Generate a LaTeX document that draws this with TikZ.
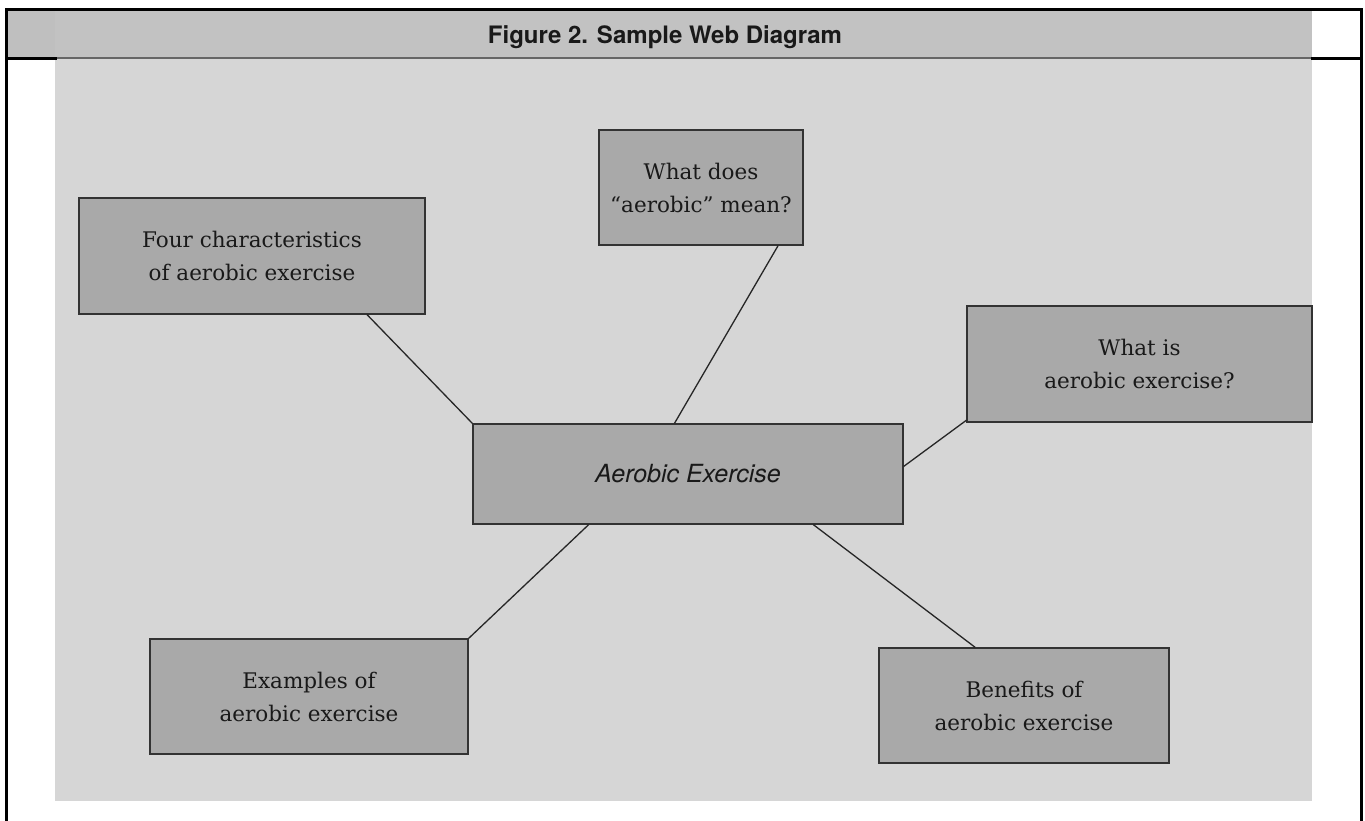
\documentclass[tikz,border=0pt]{standalone}
\usepackage{fontspec}
\newfontfamily\headfont{TeX Gyre Heros}
\newfontfamily\boxfont[Ligatures=TeX]{DejaVu Serif}
\definecolor{pagegray}{HTML}{D6D6D6}
\definecolor{bandgray}{HTML}{C2C2C2}
\definecolor{boxgray}{HTML}{A9A9A9}

\begin{document}
\begin{tikzpicture}[x=1pt,y=-1pt]
\tikzstyle{topic} = [draw=black!80,line width=1.2pt,fill=boxgray,text=black!90,inner sep=0pt,align=center,font=\boxfont\fontsize{21.5}{33}\selectfont]
\tikzstyle{hubbox} = [topic,font=\headfont\itshape\fontsize{25}{30}\selectfont]
\tikzstyle{spoke} = [draw=black!85,line width=1.3pt]
\tikzstyle{frame} = [line width=3pt,line cap=rect]

\useasboundingbox (0,0) rectangle (1365,820);

% page and title band
\fill[pagegray] (55,58) rectangle (1312,801);
\fill[bandgray] (55,10) rectangle (1312,58);
\fill[black!25] (6,10) rectangle (55,58);
\draw[black!60,line width=2pt] (55,58) -- (1312,58);
\draw[frame] (6,820) -- (6,9) -- (1361,9) -- (1361,820);
\draw[frame] (6,58) -- (55,58);
\draw[frame] (1312,58) -- (1361,58);

\node[anchor=base,font=\headfont\bfseries\fontsize{24}{28}\selectfont,text=black!90] (title) at (665,43) {Figure 2. Sample Web Diagram};

\node[hubbox,minimum width=430pt,minimum height=100pt] (hub) at (688,474) {Aerobic Exercise};

\node[topic,minimum width=346pt,minimum height=116pt] (four) at (252,256) {Four characteristics\\of aerobic exercise};
\node[topic,minimum width=204pt,minimum height=115pt] (meaning) at (701,187.5) {What does\\``aerobic'' mean?};
\node[topic,minimum width=345pt,minimum height=116pt] (whatis) at (1139.5,364) {What is\\aerobic exercise?};
\node[topic,minimum width=318pt,minimum height=115pt] (examples) at (309,696.5) {Examples of\\aerobic exercise};
\node[topic,minimum width=290pt,minimum height=115pt] (benefits) at (1024,705.5) {Benefits of\\aerobic exercise};

\draw[spoke] (four.-27.8) -- (hub.north west);
\draw[spoke] (meaning.-37.85) -- (hub.105.6);
\draw[spoke] (whatis.-162.3) -- (hub.2.4);
\draw[spoke] (examples.north east) -- (hub.-153.4);
\draw[spoke] (benefits.130.4) -- (hub.-22.6);

\end{tikzpicture}
\end{document}
